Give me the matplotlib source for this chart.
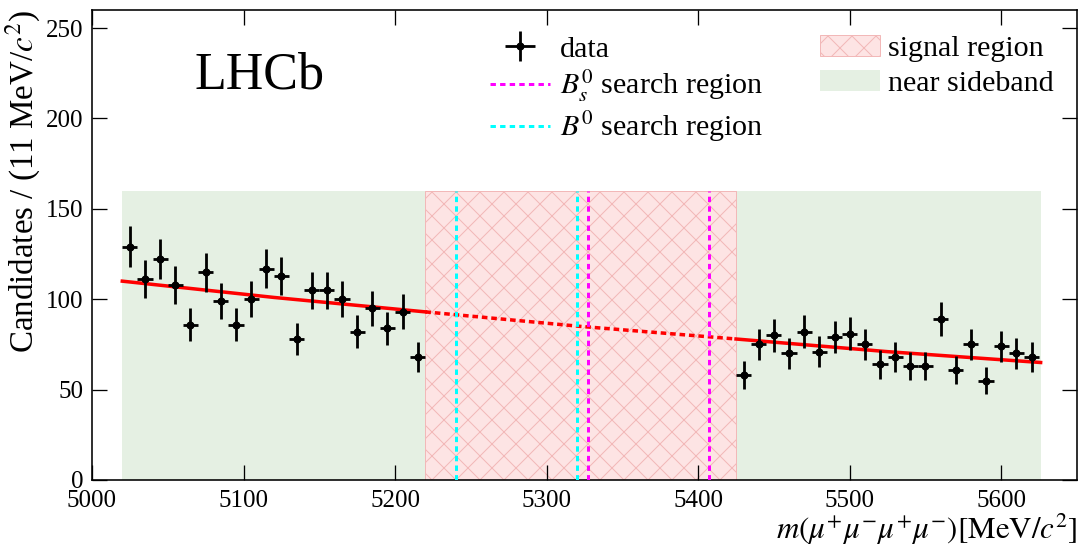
import matplotlib.pyplot as plt
import numpy as np
from matplotlib.lines import Line2D
from matplotlib.patches import Patch

plt.rcParams["font.family"] = "serif"
plt.rcParams["font.serif"] = ["Liberation Serif", "DejaVu Serif"]
plt.rcParams["mathtext.fontset"] = "stix"

# candidates per 10 MeV bin, lower and upper sideband
mass_lo = [5025, 5035, 5045, 5055, 5065, 5075, 5085, 5095, 5105, 5115,
           5125, 5135, 5145, 5155, 5165, 5175, 5185, 5195, 5205, 5215]
counts_lo = [129, 111, 122, 108, 86, 115, 99, 86, 100, 117,
             113, 78, 105, 105, 100, 82, 95, 84, 93, 68]
mass_hi = [5430, 5440, 5450, 5460, 5470, 5480, 5490, 5500, 5510, 5520,
           5530, 5540, 5550, 5560, 5570, 5580, 5590, 5600, 5610, 5620]
counts_hi = [58, 75, 80, 70, 82, 71, 79, 81, 75, 64,
             68, 63, 63, 89, 61, 75, 55, 74, 70, 68]

# background fit
fit_mass = [5020, 5120, 5220, 5322, 5425, 5525, 5626]
fit_val = [110, 101, 93, 85, 78, 71, 65]

sideband_lo = (5020, 5220)
signal_region = (5220, 5425)
sideband_hi = (5425, 5626)
region_top = 160
b0_window = (5240, 5320)
bs_window = (5327, 5407)

mass = np.array(mass_lo + mass_hi)
counts = np.array(counts_lo + counts_hi)

fig = plt.figure(figsize=(1085 / 72, 554 / 72), dpi=72)
ax = fig.add_axes([92 / 1085, 74 / 554, 985 / 1085, 470 / 554])

# regions
for lo, hi in [sideband_lo, sideband_hi]:
    ax.fill_between([lo, hi], 0, region_top, color="#e5f0e3", lw=0, zorder=0)
ax.fill_between(list(signal_region), 0, region_top, facecolor="#fde4e4", edgecolor="#f2b8b8",
                hatch="x", lw=1, zorder=1)

# fit, dotted under the signal region
fit_mass = np.array(fit_mass)
fit_val = np.array(fit_val)
in_lo = fit_mass <= signal_region[0]
in_sig = (fit_mass >= signal_region[0]) & (fit_mass <= signal_region[1])
in_hi = fit_mass >= signal_region[1]
ax.plot(fit_mass[in_lo], fit_val[in_lo], color="red", lw=3.5, zorder=3)
ax.plot(fit_mass[in_sig], fit_val[in_sig], color="red", lw=3.5, ls=(0, (1.6, 1.1)), zorder=3)
ax.plot(fit_mass[in_hi], fit_val[in_hi], color="red", lw=3.5, zorder=3)

# search windows
for x in b0_window:
    ax.plot([x, x], [0, region_top], color="cyan", lw=3, ls=(0, (1.8, 1.4)), zorder=4)
for x in bs_window:
    ax.plot([x, x], [0, region_top], color="magenta", lw=3, ls=(0, (1.8, 1.4)), zorder=4)

# data
data = ax.errorbar(mass, counts, yerr=np.sqrt(counts), xerr=5, fmt="o", color="black",
                   ms=7, elinewidth=2.8, capsize=0, zorder=5)

ax.text(0.104, 0.834, "LHCb", fontsize=52, transform=ax.transAxes)

ax.set_xlim(5000, 5650)
ax.set_ylim(0, 260)
ax.set_xticks([5000, 5100, 5200, 5300, 5400, 5500, 5600])
ax.set_yticks([0, 50, 100, 150, 200, 250])
ax.tick_params(direction="in", top=True, right=True, length=15, width=1.3, labelsize=25)
ax.tick_params(axis="x", pad=10)
ax.tick_params(axis="y", pad=9)
for s in ax.spines.values():
    s.set_linewidth(1.6)

ax.set_xlabel(r"$m(\mu^{+}\mu^{-}\mu^{+}\mu^{-})[\mathrm{MeV}/c^{2}]$", fontsize=31, loc="right", labelpad=0)
ax.set_ylabel(r"Candidates / (11 MeV/$c^{2}$)", fontsize=33, loc="top", labelpad=2)

handles_left = [
    data,
    Line2D([], [], color="magenta", lw=3, ls=(0, (1.8, 1.4))),
    Line2D([], [], color="cyan", lw=3, ls=(0, (1.8, 1.4))),
]
labels_left = ["data", r"$B_{s}^{0}$ search region", r"$B^{0}$ search region"]
leg1 = ax.legend(handles_left, labels_left, loc="upper left", bbox_to_anchor=(0.38, 0.996),
                 frameon=False, fontsize=30, handlelength=2.0, labelspacing=0.18,
                 handletextpad=0.33, borderpad=0.3)
ax.add_artist(leg1)

handles_right = [
    Patch(facecolor="#fde4e4", edgecolor="#f2b8b8", hatch="x", lw=1),
    Patch(facecolor="#e5f0e3", lw=0),
]
ax.legend(handles_right, ["signal region", "near sideband"], loc="upper left",
          bbox_to_anchor=(0.715, 0.998), frameon=False, fontsize=30, handlelength=2.0,
          handleheight=0.7, labelspacing=0.26, handletextpad=0.27, borderpad=0.3)

fig.savefig("out.png", dpi=72)
